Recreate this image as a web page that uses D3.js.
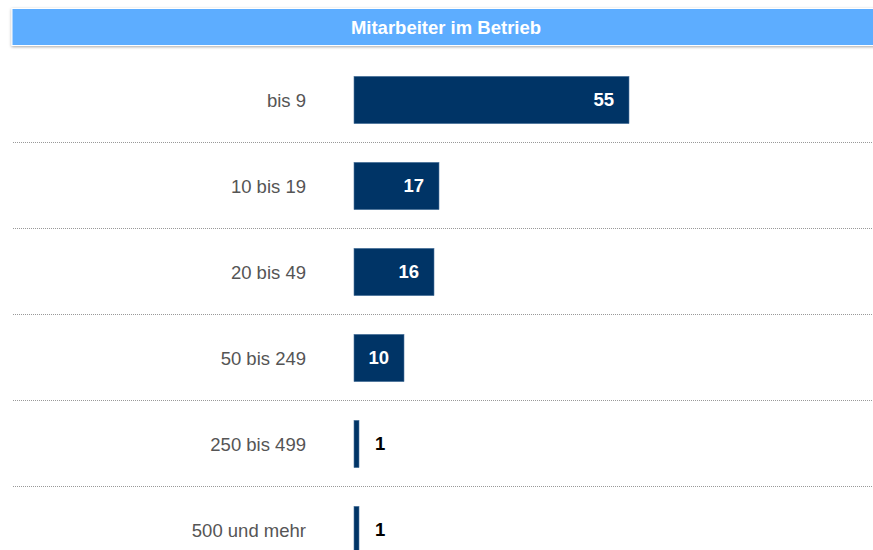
<!DOCTYPE html>
<html>
<head>
<meta charset="utf-8">
<script src="https://cdnjs.cloudflare.com/ajax/libs/d3/7.8.5/d3.min.js"></script>
<style>
  body { margin: 0; background: #fff; overflow: hidden; }
  svg { display: block; font-family: "Liberation Sans", Arial, sans-serif; }
</style>
</head>
<body>
<div id="chart"></div>
<script>
// data
var title = "Mitarbeiter im Betrieb";
var categories = ["bis 9", "10 bis 19", "20 bis 49", "50 bis 249", "250 bis 499", "500 und mehr"];
var values = [55, 17, 16, 10, 1, 1];

var width = 873, height = 550;
var fontSize = 18.5;

var svg = d3.select("#chart")
    .append("svg")
    .attr("width", width)
    .attr("height", height);

// drop shadow for the header box
var defs = svg.append("defs");
var f = defs.append("filter").attr("id", "shadow")
    .attr("x", "-5%").attr("y", "-40%").attr("width", "110%").attr("height", "180%");
f.append("feDropShadow")
    .attr("dx", 0).attr("dy", 1)
    .attr("stdDeviation", 1.6)
    .attr("flood-color", "#000")
    .attr("flood-opacity", 0.35);

// header
svg.append("rect")
    .attr("x", 12).attr("y", 8.5)
    .attr("width", 880).attr("height", 37)
    .attr("fill", "#5dadff")
    .attr("stroke", "#fff")
    .attr("stroke-width", 1)
    .attr("filter", "url(#shadow)");

svg.append("text")
    .attr("x", 446).attr("y", 34)
    .attr("text-anchor", "middle")
    .attr("fill", "#fff")
    .attr("font-weight", "bold")
    .attr("font-size", fontSize)
    .text(title);

// scales
var y = d3.scaleBand()
    .domain(categories)
    .range([57, 57 + 86 * categories.length])
    .paddingInner(0.45)
    .paddingOuter(0.225);

var x = d3.scaleLinear()
    .domain([0, 55])
    .range([354, 629]);

// separators between rows
var seps = categories.slice(0, -1);
svg.append("g").selectAll("line")
    .data(seps)
    .enter()
    .append("line")
    .attr("x1", 13).attr("x2", width)
    .attr("y1", function (d, i) { return 142.5 + 86 * i; })
    .attr("y2", function (d, i) { return 142.5 + 86 * i; })
    .attr("stroke", "#999")
    .attr("stroke-width", 1)
    .attr("stroke-dasharray", "1,1");

// category labels
svg.append("g").selectAll("text")
    .data(categories)
    .enter()
    .append("text")
    .attr("x", 306)
    .attr("y", function (d) { return y(d) + y.bandwidth() / 2 + 1; })
    .attr("dy", "0.35em")
    .attr("text-anchor", "end")
    .attr("fill", "#555")
    .attr("font-size", fontSize)
    .text(function (d) { return d; });

// bars
svg.append("g").selectAll("rect")
    .data(values)
    .enter()
    .append("rect")
    .attr("x", x(0))
    .attr("y", function (d, i) { return y(categories[i]); })
    .attr("width", function (d) { return x(d) - x(0); })
    .attr("height", y.bandwidth())
    .attr("fill", "#003466")
    .attr("stroke", "#4f77a0")
    .attr("stroke-width", 0.6);

// value labels
svg.append("g").selectAll("text")
    .data(values)
    .enter()
    .append("text")
    .attr("x", function (d) { return d > 3 ? x(d) - 15 : x(d) + 16; })
    .attr("y", function (d, i) { return y(categories[i]) + y.bandwidth() / 2; })
    .attr("dy", "0.35em")
    .attr("text-anchor", function (d) { return d > 3 ? "end" : "start"; })
    .attr("fill", function (d) { return d > 3 ? "#fff" : "#000"; })
    .attr("font-weight", "bold")
    .attr("font-size", fontSize)
    .text(function (d) { return d; });
</script>
</body>
</html>
